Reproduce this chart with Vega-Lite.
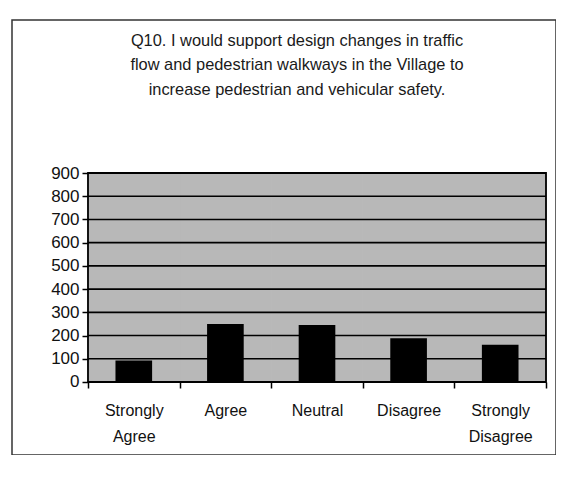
{
  "$schema": "https://vega.github.io/schema/vega-lite/v6.json",
  "width": 544,
  "height": 435,
  "autosize": "none",
  "padding": {"left": 12, "top": 20, "right": 0, "bottom": 0},
  "background": "white",
  "config": {
    "view": {"stroke": "#333333", "strokeWidth": 1.5},
    "font": "Liberation Sans"
  },
  "title": {
    "text": ["Q10. I would support design changes in traffic", "flow and pedestrian walkways in the Village to", "increase pedestrian and vehicular safety."],
    "anchor": "middle",
    "frame": "group",
    "fontSize": 16.4,
    "fontWeight": "normal",
    "font": "Liberation Sans",
    "color": "#1a1a1a",
    "lineHeight": 24.5,
    "baseline": "top",
    "offset": -78,
    "dx": 13
  },
  "datasets": {
    "answers": [
      {"answer": "Strongly Agree", "count": 93},
      {"answer": "Agree", "count": 250},
      {"answer": "Neutral", "count": 245},
      {"answer": "Disagree", "count": 188},
      {"answer": "Strongly Disagree", "count": 160}
    ],
    "gridlines": [
      {"v": 100}, {"v": 200}, {"v": 300}, {"v": 400}, {"v": 500},
      {"v": 600}, {"v": 700}, {"v": 800}, {"v": 900}
    ]
  },
  "layer": [
    {
      "data": {"name": "answers"},
      "mark": {"type": "rect", "fill": "#b8b8b8", "stroke": "#b8b8b8", "strokeWidth": 1},
      "encoding": {
        "x": {
          "field": "answer", "type": "nominal",
          "sort": ["Strongly Agree", "Agree", "Neutral", "Disagree", "Strongly Disagree"],
          "scale": {"paddingInner": 0, "paddingOuter": 0.4694, "align": 0.8837},
          "axis": {
            "title": null,
            "orient": "bottom",
            "offset": -73,
            "domain": false,
            "grid": false,
            "tickBand": "extent",
            "tickSize": 6,
            "tickColor": "#000000",
            "tickWidth": 1.5,
            "labelAngle": 0,
            "labelExpr": "split(datum.label, ' ')",
            "labelFontSize": 16,
            "labelColor": "#111111",
            "labelLineHeight": 26,
            "labelPadding": 14,
            "labelFont": "Liberation Sans",
            "zindex": 2
          }
        },
        "y": {"datum": 0, "type": "quantitative",
              "scale": {"domain": [-314.4, 1558.9], "nice": false, "zero": false},
              "axis": {
                "title": null,
                "values": [0, 100, 200, 300, 400, 500, 600, 700, 800, 900],
                "offset": -76,
                "domain": false,
                "grid": false,
                "tickSize": 6,
                "tickColor": "#000000",
                "tickWidth": 1.5,
                "labelFontSize": 17,
                "labelColor": "#111111",
                "labelPadding": 3,
                "labelFont": "Liberation Sans",
                "zindex": 2
              }},
        "y2": {"datum": 900}
      }
    },
    {
      "data": {"name": "gridlines"},
      "mark": {"type": "rule", "stroke": "#000000", "strokeWidth": 1.6},
      "encoding": {
        "y": {"field": "v", "type": "quantitative"},
        "x": {"datum": "Strongly Agree", "type": "nominal", "bandPosition": 0},
        "x2": {"datum": "Strongly Disagree", "bandPosition": 1}
      }
    },
    {
      "data": {"name": "answers"},
      "mark": {"type": "bar", "fill": "#000000", "width": {"band": 0.4}},
      "encoding": {
        "x": {"field": "answer", "type": "nominal",
              "sort": ["Strongly Agree", "Agree", "Neutral", "Disagree", "Strongly Disagree"]},
        "y": {"field": "count", "type": "quantitative"}
      }
    },
    {
      "data": {"values": [{"edge": "plot"}]},
      "mark": {"type": "rect", "fillOpacity": 0, "stroke": "#000000", "strokeWidth": 1.8},
      "encoding": {
        "x": {"datum": "Strongly Agree", "type": "nominal", "bandPosition": 0},
        "x2": {"datum": "Strongly Disagree", "bandPosition": 1},
        "y": {"datum": 0, "type": "quantitative"},
        "y2": {"datum": 900}
      }
    }
  ]
}
